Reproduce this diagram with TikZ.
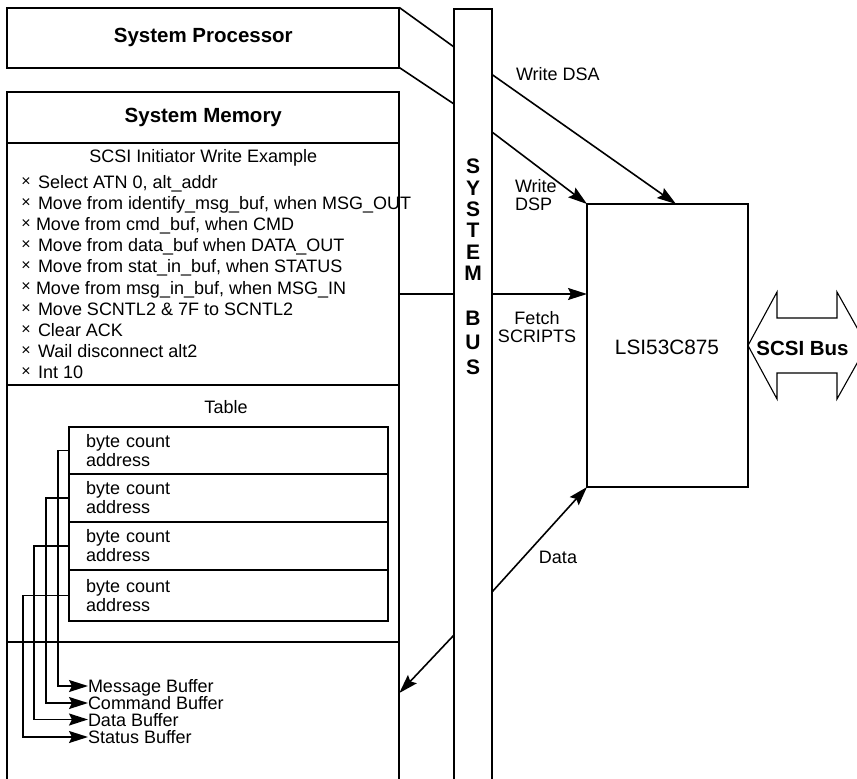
\documentclass[tikz,border=0pt]{standalone}
\usepackage{fontspec}
\setmainfont{Liberation Sans}
\usetikzlibrary{arrows.meta,calc}
\begin{document}
\begin{tikzpicture}[x=1pt,y=-1pt,
  every node/.style={inner sep=0pt,outer sep=0pt},
  txt/.style={font=\fontsize{18}{21}\selectfont},
  boldtxt/.style={font=\fontsize{20.5}{24}\bfseries\selectfont},
  box/.style={draw,line width=2pt},
  rowbox/.style={draw,line width=1.6pt,minimum width=319pt,text width=285pt,inner xsep=17pt,align=left,font=\fontsize{18}{19}\selectfont},
  conn/.style={line width=1.6pt},
  arr/.style={line width=1.6pt,-{Stealth[length=19pt,width=12pt,inset=3pt]}},
  bufl/.style={txt,anchor=west,text height=13pt,text depth=0pt},
  xmark/.style={font=\fontsize{16}{16}\selectfont},
  item/.style={txt,anchor=base west},
  busletter/.style={font=\fontsize{21}{24}\bfseries\selectfont,text height=15pt,text depth=0pt}]
\useasboundingbox (0,0) rectangle (857,779);
\clip (0,0) rectangle (857,779);

% System processor
\node[box,minimum width=392pt,minimum height=60pt,boldtxt] (proc) at (203.3,37.5) {System Processor};

% System memory
\node[box,minimum width=392pt,minimum height=720pt] (mem) at (203.3,451.7) {};
\node[boldtxt] (memt) at (203.3,117.5) {System Memory};
\draw[line width=2pt] (mem.west |- 0,143) -- (mem.east |- 0,143);
\draw[line width=2pt] (mem.west |- 0,385) -- (mem.east |- 0,385);
\draw[line width=2pt] (mem.west |- 0,642) -- (mem.east |- 0,642);

\node[txt] (ex) at (203.3,158) {SCSI Initiator Write Example};
\foreach \yy [count=\k] in {188.5,209.6,230.7,251.8,272.9,294,315.1,336.2,357.3,378.4}
  \node[xmark] (xm\k) at (26,\yy-6.5) {×};
\node[item] (it1) at (38,188.5) {Select ATN 0, alt\_addr};
\node[item] (it2) at (38,209.6) {Move from identify\_msg\_buf, when MSG\_OUT};
\node[item] (it3) at (36,230.7) {Move from cmd\_buf, when CMD};
\node[item] (it4) at (38,251.8) {Move from data\_buf when DATA\_OUT};
\node[item] (it5) at (38,272.9) {Move from stat\_in\_buf, when STATUS};
\node[item] (it6) at (36,294) {Move from msg\_in\_buf, when MSG\_IN};
\node[item] (it7) at (38,315.1) {Move SCNTL2 \& 7F to SCNTL2};
\node[item] (it8) at (38,336.2) {Clear ACK};
\node[item] (it9) at (38,357.3) {Wail disconnect alt2};
\node[item] (it10) at (38,378.4) {Int 10};

% Table
\node[txt] (tabt) at (226,407) {Table};
\node[rowbox,minimum height=47pt] (row1) at (228.5,450.5) {byte count\\address};
\node[rowbox,minimum height=48pt] (row2) at (228.5,498) {byte count\\address};
\node[rowbox,minimum height=48pt] (row3) at (228.5,546) {byte count\\address};
\node[rowbox,minimum height=51pt] (row4) at (228.5,595.5) {byte count\\address};

% Buffers
\node[bufl] (mbuf) at (88,686) {Message Buffer};
\node[bufl] (cbuf) at (88,703) {Command Buffer};
\node[bufl] (dbuf) at (88,719.5) {Data Buffer};
\node[bufl] (sbuf) at (88,737) {Status Buffer};
\draw[arr] (row1.west) -- ++(-11,0) |- (mbuf.west);
\draw[arr] (row2.west) -- ++(-23,0) |- (cbuf.west);
\draw[arr] (row3.west) -- ++(-35,0) |- (dbuf.west);
\draw[arr] (row4.west) -- ++(-46,0) |- (sbuf.west);

% System bus
\node[draw,line width=1.6pt,minimum width=38pt,minimum height=800pt] (bus) at (473,409) {};
\foreach \c/\yy [count=\k] in {S/166,Y/187.5,S/209,T/230,E/252,M/273,B/318,U/342,S/367}
  \node[busletter] (sb\k) at (473,\yy) {\c};

% LSI chip
\node[draw,line width=1.4pt,minimum width=161pt,minimum height=283pt] (lsi) at (667.5,345.5) {};
\node[font=\fontsize{20.8}{24}\selectfont] (lsit) at (667,347.5) {LSI53C875};

% Write DSA
\coordinate (dsa1) at (454,47);
\coordinate (dsa2) at (492,74.5);
\coordinate (dsaE) at ($(lsi.north west)+(89,0)$);
\draw[conn] (proc.north east) -- (dsa1);
\draw[arr] (dsa2) -- (dsaE);
\node[txt,anchor=west] (lbdsa) at (516,74) {Write DSA};

% Write DSP
\coordinate (dsp1) at (454,104);
\coordinate (dsp2) at (492,132);
\draw[conn] (proc.south east) -- (dsp1);
\draw[arr] (dsp2) -- (lsi.north west);
\node[txt,anchor=west,align=left,font=\fontsize{18}{18}\selectfont] (lbdsp) at (515,195) {Write\\DSP};

% Fetch SCRIPTS
\draw[conn] (mem.east |- 0,294) -- (bus.west |- 0,294);
\draw[arr] (bus.east |- 0,294) -- (lsi.west |- 0,294);
\node[txt,align=center,font=\fontsize{18}{18}\selectfont] (lbfetch) at (537,327.5) {Fetch\\SCRIPTS};

% Data
\draw[arr] (bus.east |- 0,592) -- (lsi.south west);
\draw[arr] (bus.west |- 0,635) -- (mem.east |- 0,693);
\node[txt] (lbdata) at (558,557) {Data};

% SCSI Bus double arrow
\draw[line width=1.1pt] (lsi.east) -- (777,292) -- (777,318) -- (837,318) -- (837,292)
  -- (867,345.5) -- (837,399) -- (837,373) -- (777,373) -- (777,399) -- cycle;
\node[boldtxt] (scsi) at (802.5,348) {SCSI Bus};
\end{tikzpicture}
\end{document}
